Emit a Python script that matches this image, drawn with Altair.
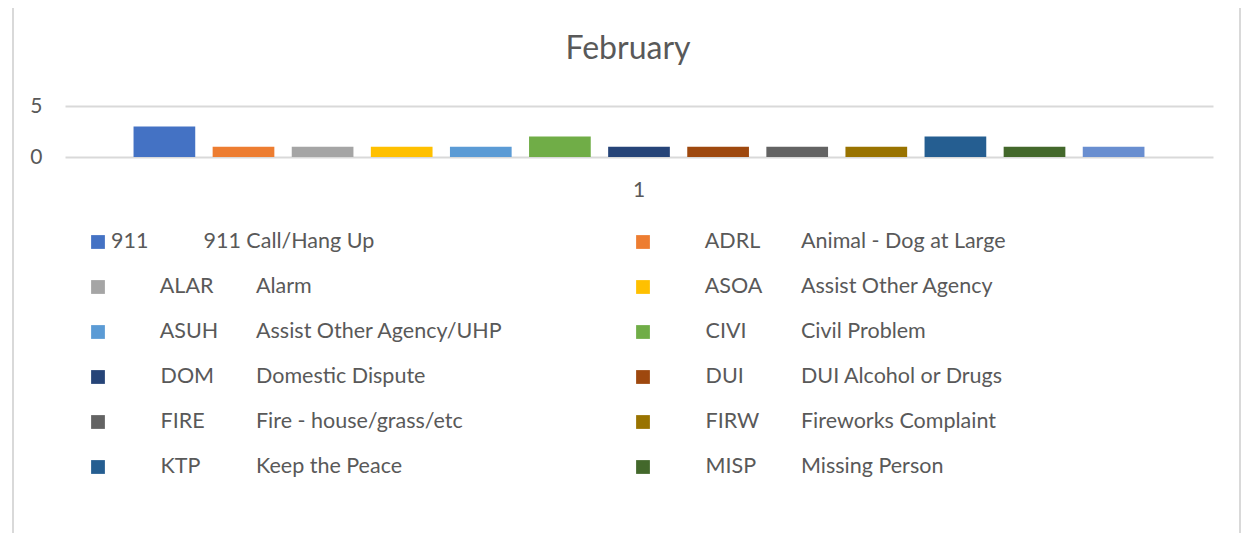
import altair as alt
import pandas as pd

# ---- data ----
chart_title = "February"
category = "1"
codes = ["911", "ADRL", "ALAR", "ASOA", "ASUH", "CIVI", "DOM", "DUI",
         "FIRE", "FIRW", "KTP", "MISP", "(13th series, legend cut off)"]
descriptions = ["911 Call/Hang Up", "Animal - Dog at Large", "Alarm",
                "Assist Other Agency", "Assist Other Agency/UHP", "Civil Problem",
                "Domestic Dispute", "DUI Alcohol or Drugs", "Fire - house/grass/etc",
                "Fireworks Complaint", "Keep the Peace", "Missing Person", ""]
counts = [3, 1, 1, 1, 1, 2, 1, 1, 1, 1, 2, 1, 1]
colors = ["#4472C4", "#ED7D31", "#A5A5A5", "#FFC000", "#5B9BD5", "#70AD47",
          "#264478", "#9E480E", "#636363", "#997300", "#255E91", "#43682B",
          "#698ED0"]
y_ticks = [0, 5]
legend_visible = 12  # the 13th legend entry is cut off in the reference

# ---- tables ----
bar_df = pd.DataFrame({"group": category, "code": codes, "count": counts})

# the reference legend texts are tab separated; non-breaking spaces stand in
# for the tabs (a leading zero-width char keeps them from being trimmed)
NBSP = "\u00a0"
leg_rows = []
for i in range(legend_visible):
    if i == 0:
        code_text = codes[i] + NBSP * 10 + descriptions[i]
        desc_text = ""
    else:
        code_text = "\u200b" + NBSP * 9 + codes[i]
        desc_text = descriptions[i]
    leg_rows.append({
        "code": codes[i],
        "row": i // 2,
        "col": i % 2,
        "code_text": code_text,
        "desc_text": desc_text,
    })
leg_df = pd.DataFrame(leg_rows)

# ---- styling ----
W, H = 1148, 51
FONT = "Lato"
TXT = "#595959"
GRID = "#D9D9D9"

color_scale = alt.Scale(domain=codes, range=colors)

border = alt.Chart(alt.Data(values=[{"k": 1}])).mark_rect(
    fill=None, stroke=GRID, strokeWidth=2
).encode(
    x=alt.value(-52), x2=alt.value(1175), y=alt.value(-99), y2=alt.value(600)
)

bars = alt.Chart(bar_df).mark_bar().encode(
    x=alt.X("group:N",
            scale=alt.Scale(paddingInner=0, paddingOuter=0.0678),
            axis=alt.Axis(title=None, domain=False, ticks=False, tickSize=0,
                          labelAngle=0, labelPadding=22, labelFont=FONT,
                          labelFontSize=21, labelColor=TXT, grid=False)),
    xOffset=alt.XOffset("code:N", sort=codes,
                        scale=alt.Scale(paddingInner=0.22, paddingOuter=0)),
    y=alt.Y("count:Q",
            scale=alt.Scale(domain=[0, 5], nice=False),
            axis=alt.Axis(title=None, values=y_ticks, domain=False, ticks=False,
                          tickSize=0, labelPadding=23, labelFont=FONT,
                          labelFontSize=21, labelColor=TXT, grid=True,
                          gridColor=GRID, gridWidth=2)),
    color=alt.Color("code:N", scale=color_scale, legend=None),
)

lx = alt.X("col:Q", scale=alt.Scale(domain=[0, 1], range=[33, 578]), axis=None)
ly = alt.Y("row:Q", scale=alt.Scale(domain=[0, 5], range=[136, 361]), axis=None)

leg_sq = alt.Chart(leg_df).mark_square(size=190, opacity=1).encode(
    x=lx, y=ly, color=alt.Color("code:N", scale=color_scale, legend=None)
)
leg_code = alt.Chart(leg_df).mark_text(
    align="left", baseline="middle", dx=13, font=FONT, fontSize=21.5, color=TXT
).encode(x=lx, y=ly, text="code_text:N")
leg_desc = alt.Chart(leg_df).mark_text(
    align="left", baseline="middle", dx=158, font=FONT, fontSize=21.5, color=TXT
).encode(x=lx, y=ly, text="desc_text:N")

chart = alt.layer(border, bars, leg_sq, leg_code, leg_desc).resolve_scale(
    x="independent", y="independent"
).properties(
    width=W, height=H,
    title=alt.Title(chart_title, font=FONT, fontSize=32, color=TXT,
                    fontWeight="normal", anchor="middle", frame="group",
                    baseline="alphabetic", offset=-85, dx=-11),
    autosize=alt.AutoSizeParams(type="none"),
    padding={"left": 57, "top": 98, "right": 28, "bottom": 376},
).configure(background="white").configure_view(stroke=None)

chart.save("out.html", embed_options={"renderer": "svg", "actions": False})
